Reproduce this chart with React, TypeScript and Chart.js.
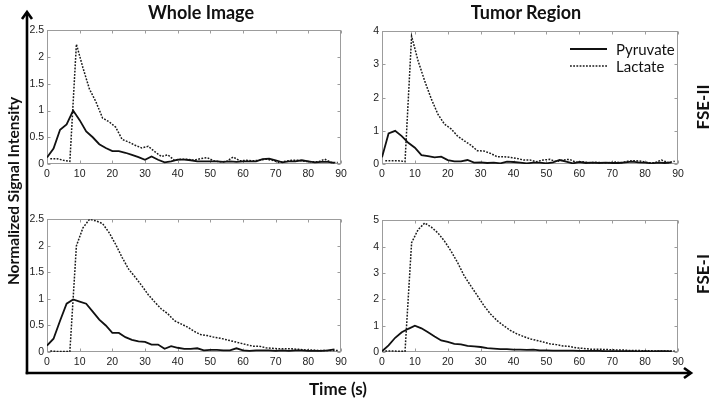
import React, { useEffect, useRef } from "react";
import { Chart, registerables } from "chart.js";

Chart.register(...registerables);

// Sampling times (s): pyruvate on even seconds, lactate on odd seconds
const pyruvateTimes = [0, 2, 4, 6, 8, 10, 12, 14, 16, 18, 20, 22, 24, 26, 28, 30, 32, 34, 36, 38, 40, 42, 44, 46, 48, 50, 52, 54, 56, 58, 60, 62, 64, 66, 68, 70, 72, 74, 76, 78, 80, 82, 84, 86, 88];
const lactateTimes = [1, 3, 5, 7, 9, 11, 13, 15, 17, 19, 21, 23, 25, 27, 29, 31, 33, 35, 37, 39, 41, 43, 45, 47, 49, 51, 53, 55, 57, 59, 61, 63, 65, 67, 69, 71, 73, 75, 77, 79, 81, 83, 85, 87, 89];

// Whole Image, FSE-II
const wholeFse2Pyruvate = [0.12, 0.29, 0.64, 0.74, 1.0, 0.82, 0.61, 0.5, 0.37, 0.3, 0.24, 0.24, 0.21, 0.17, 0.13, 0.08, 0.14, 0.08, 0.03, 0.05, 0.08, 0.08, 0.07, 0.05, 0.05, 0.05, 0.05, 0.04, 0.05, 0.04, 0.05, 0.05, 0.05, 0.09, 0.1, 0.07, 0.03, 0.05, 0.05, 0.07, 0.05, 0.03, 0.04, 0.04, 0.02];
const wholeFse2Lactate = [0.1, 0.1, 0.07, 0.05, 2.24, 1.8, 1.4, 1.16, 0.86, 0.79, 0.69, 0.46, 0.41, 0.35, 0.3, 0.33, 0.23, 0.14, 0.17, 0.07, 0.09, 0.09, 0.07, 0.1, 0.12, 0.06, 0.04, 0.05, 0.13, 0.06, 0.07, 0.06, 0.07, 0.09, 0.07, 0.03, 0.05, 0.07, 0.07, 0.05, 0.04, 0.04, 0.09, 0.03, 0.03];

// Tumor Region, FSE-II
const tumorFse2Pyruvate = [0.2, 0.92, 1.0, 0.84, 0.64, 0.49, 0.27, 0.24, 0.2, 0.22, 0.12, 0.08, 0.08, 0.12, 0.04, 0.05, 0.03, 0.04, 0.02, 0.07, 0.06, 0.04, 0.02, 0.04, 0.04, 0.02, 0.05, 0.12, 0.07, 0.02, 0.06, 0.03, 0.04, 0.03, 0.04, 0.03, 0.03, 0.05, 0.07, 0.05, 0.04, 0.02, 0.04, 0.03, 0.05];
const tumorFse2Lactate = [0.1, 0.1, 0.1, 0.07, 3.85, 3.1, 2.5, 1.96, 1.5, 1.2, 1.06, 0.84, 0.7, 0.57, 0.4, 0.39, 0.32, 0.22, 0.22, 0.2, 0.17, 0.12, 0.12, 0.07, 0.12, 0.14, 0.07, 0.12, 0.14, 0.05, 0.07, 0.04, 0.05, 0.04, 0.04, 0.06, 0.04, 0.09, 0.1, 0.08, 0.04, 0.04, 0.12, 0.04, 0.08];

// Whole Image, FSE-I
const wholeFse1Pyruvate = [0.12, 0.25, 0.59, 0.91, 0.99, 0.95, 0.91, 0.76, 0.61, 0.5, 0.36, 0.36, 0.28, 0.23, 0.2, 0.19, 0.14, 0.14, 0.06, 0.11, 0.08, 0.06, 0.06, 0.07, 0.03, 0.04, 0.04, 0.03, 0.03, 0.07, 0.03, 0.02, 0.03, 0.03, 0.03, 0.02, 0.03, 0.02, 0.03, 0.03, 0.02, 0.02, 0.02, 0.03, 0.05];
const wholeFse1Lactate = [0.02, 0.01, 0.01, 0.01, 2.0, 2.34, 2.5, 2.47, 2.42, 2.25, 2.03, 1.78, 1.56, 1.41, 1.25, 1.08, 0.94, 0.81, 0.72, 0.59, 0.53, 0.47, 0.39, 0.33, 0.31, 0.28, 0.26, 0.23, 0.2, 0.17, 0.14, 0.11, 0.11, 0.08, 0.07, 0.06, 0.06, 0.06, 0.05, 0.04, 0.04, 0.03, 0.03, 0.03, 0.03];

// Tumor Region, FSE-I
const tumorFse1Pyruvate = [0.03, 0.25, 0.54, 0.75, 0.88, 1.0, 0.9, 0.75, 0.59, 0.44, 0.38, 0.31, 0.29, 0.23, 0.21, 0.19, 0.15, 0.13, 0.11, 0.11, 0.09, 0.09, 0.08, 0.09, 0.06, 0.06, 0.05, 0.05, 0.05, 0.05, 0.04, 0.04, 0.04, 0.04, 0.03, 0.03, 0.03, 0.03, 0.03, 0.02, 0.03, 0.02, 0.03, 0.03, 0.02];
const tumorFse1Lactate = [0.04, 0.04, 0.03, 0.03, 4.15, 4.65, 4.9, 4.74, 4.52, 4.21, 3.83, 3.39, 2.89, 2.51, 2.14, 1.76, 1.44, 1.19, 1.0, 0.82, 0.69, 0.59, 0.5, 0.44, 0.38, 0.31, 0.28, 0.23, 0.21, 0.16, 0.14, 0.11, 0.1, 0.1, 0.09, 0.08, 0.08, 0.06, 0.06, 0.05, 0.05, 0.04, 0.04, 0.04, 0.04];

const columnTitles = ["Whole Image", "Tumor Region"];
const rowTitles = ["FSE-II", "FSE-I"];
const seriesNames = ["Pyruvate", "Lactate"];
const xTitle = "Time (s)";
const yTitle = "Normalized Signal Intensity";

const boxPlugin = {
  id: "matlabBox",
  beforeDatasetsDraw(chart: any) {
    const { ctx, chartArea: a, scales } = chart;
    ctx.save();
    ctx.strokeStyle = "#9c9c9c";
    ctx.lineWidth = 1;
    const L = Math.round(a.left) + 0.5;
    const R = Math.round(a.right) - 0.5;
    const T = Math.round(a.top) + 0.5;
    const B = Math.round(a.bottom) - 0.5;
    ctx.strokeRect(L, T, R - L, B - T);
    const tl = 3;
    ctx.beginPath();
    scales.x.ticks.forEach((t: any) => {
      const px = Math.round(scales.x.getPixelForValue(t.value)) + 0.5;
      ctx.moveTo(px, B);
      ctx.lineTo(px, B - tl);
      ctx.moveTo(px, T);
      ctx.lineTo(px, T + tl);
    });
    scales.y.ticks.forEach((t: any) => {
      const py = Math.round(scales.y.getPixelForValue(t.value)) + 0.5;
      ctx.moveTo(L, py);
      ctx.lineTo(L + tl, py);
      ctx.moveTo(R, py);
      ctx.lineTo(R - tl, py);
    });
    ctx.stroke();
    ctx.restore();
  },
};

type PanelProps = {
  left: number;
  top: number;
  width: number;
  height: number;
  pyr: number[];
  lac: number[];
  yMax: number;
  yStep: number;
};

function Panel({ left, top, width, height, pyr, lac, yMax, yStep }: PanelProps) {
  const ref = useRef<HTMLCanvasElement | null>(null);
  useEffect(() => {
    if (!ref.current) return;
    const tickFont = { family: "'Liberation Sans', Arial, sans-serif", size: 10.5 };
    const chart = new Chart(ref.current, {
      type: "line",
      data: {
        datasets: [
          {
            label: seriesNames[0],
            data: pyruvateTimes.map((t, i) => ({ x: t, y: pyr[i] })),
            borderColor: "#111",
            borderWidth: 1.8,
            pointRadius: 0,
            tension: 0,
            fill: false,
          },
          {
            label: seriesNames[1],
            data: lactateTimes.map((t, i) => ({ x: t, y: lac[i] })),
            borderColor: "#1a1a1a",
            borderWidth: 1.5,
            borderDash: [1.8, 1.4],
            pointRadius: 0,
            tension: 0,
            fill: false,
          },
        ],
      },
      options: {
        animation: false,
        responsive: true,
        maintainAspectRatio: false,
        layout: { padding: { top: 8, right: 10, left: 0, bottom: 0 } },
        plugins: { legend: { display: false }, tooltip: { enabled: false } },
        scales: {
          x: {
            type: "linear",
            min: 0,
            max: 90,
            border: { display: false },
            grid: { display: false, drawTicks: false },
            ticks: { stepSize: 10, padding: 4, color: "#222", font: tickFont, maxRotation: 0 },
            afterFit: (s: any) => {
              s.height = 20;
            },
          },
          y: {
            type: "linear",
            min: 0,
            max: yMax,
            border: { display: false },
            grid: { display: false, drawTicks: false },
            ticks: {
              stepSize: yStep,
              padding: 3,
              color: "#222",
              font: tickFont,
              callback: (v: any) => String(Math.round(Number(v) * 10) / 10),
            },
            afterFit: (s: any) => {
              s.width = 27;
            },
          },
        },
      } as any,
      plugins: [boxPlugin],
    });
    return () => chart.destroy();
  }, [pyr, lac, yMax, yStep]);
  return (
    <div style={{ position: "absolute", left, top, width, height }}>
      <canvas ref={ref} />
    </div>
  );
}

const boldFont = "Lato, 'Open Sans', sans-serif";

export default function App() {
  return (
    <div
      style={{
        position: "absolute",
        left: 0,
        top: 0,
        width: 709,
        height: 400,
        background: "#fff",
        overflow: "hidden",
        fontFamily: boldFont,
      }}
    >
      <Panel left={20} top={21} width={331} height={163} pyr={wholeFse2Pyruvate} lac={wholeFse2Lactate} yMax={2.5} yStep={0.5} />
      <Panel left={355} top={22} width={333} height={162} pyr={tumorFse2Pyruvate} lac={tumorFse2Lactate} yMax={4} yStep={1} />
      <Panel left={20} top={210} width={331} height={162} pyr={wholeFse1Pyruvate} lac={wholeFse1Lactate} yMax={2.5} yStep={0.5} />
      <Panel left={355} top={211} width={333} height={161} pyr={tumorFse1Pyruvate} lac={tumorFse1Lactate} yMax={5} yStep={1} />

      <svg width={709} height={400} style={{ position: "absolute", left: 0, top: 0, pointerEvents: "none" }}>
        <g stroke="#000" strokeWidth={2.6} fill="none" strokeLinecap="butt" strokeLinejoin="miter">
          <line x1={27} y1={13} x2={27} y2={374.3} />
          <line x1={25.7} y1={373} x2={690} y2={373} />
          <polyline points="22,19 27,12 32,19" />
          <polyline points="684,368 691,373 684,378" />
        </g>
        <line x1={570} y1={49} x2={607} y2={49} stroke="#111" strokeWidth={2} />
        <line x1={570} y1={66} x2={607} y2={66} stroke="#1a1a1a" strokeWidth={1.6} strokeDasharray="1.8 1.4" />
      </svg>

      <div style={{ position: "absolute", left: 616, top: 40, fontSize: 15, lineHeight: "18px", color: "#111" }}>{seriesNames[0]}</div>
      <div style={{ position: "absolute", left: 616, top: 57, fontSize: 15, lineHeight: "18px", color: "#111" }}>{seriesNames[1]}</div>

      <div style={{ position: "absolute", left: 201, top: 12, transform: "translate(-50%,-50%)", fontWeight: 700, fontSize: 18, whiteSpace: "nowrap", color: "#111" }}>{columnTitles[0]}</div>
      <div style={{ position: "absolute", left: 526, top: 12, transform: "translate(-50%,-50%)", fontWeight: 700, fontSize: 18, whiteSpace: "nowrap", color: "#111" }}>{columnTitles[1]}</div>

      <div style={{ position: "absolute", left: 702, top: 107, transform: "translate(-50%,-50%) rotate(-90deg)", fontWeight: 700, fontSize: 17, whiteSpace: "nowrap", color: "#111" }}>{rowTitles[0]}</div>
      <div style={{ position: "absolute", left: 702, top: 274, transform: "translate(-50%,-50%) rotate(-90deg)", fontWeight: 700, fontSize: 17, whiteSpace: "nowrap", color: "#111" }}>{rowTitles[1]}</div>

      <div style={{ position: "absolute", left: 13, top: 191, transform: "translate(-50%,-50%) rotate(-90deg)", fontWeight: 700, fontSize: 15.5, whiteSpace: "nowrap", color: "#111" }}>{yTitle}</div>
      <div style={{ position: "absolute", left: 338, top: 388, transform: "translate(-50%,-50%)", fontWeight: 700, fontSize: 17, whiteSpace: "nowrap", color: "#111" }}>{xTitle}</div>
    </div>
  );
}
